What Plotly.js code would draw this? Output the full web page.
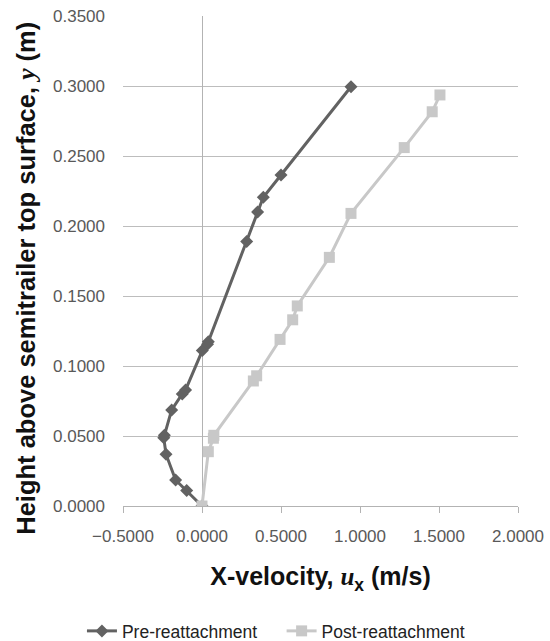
<!DOCTYPE html>
<html>
<head>
<meta charset="utf-8">
<script src="https://cdn.plot.ly/plotly-3.0.1.min.js"></script>
<style>html,body{margin:0;padding:0;background:#fff;}#chart{width:550px;height:641px;}</style>
</head>
<body>
<div id="chart"></div>
<script>
// Pre-reattachment series
const preX = [0.000, -0.097, -0.167, -0.228, -0.242, -0.238, -0.192, -0.125, -0.104, 0.002, 0.035, 0.040, 0.283, 0.352, 0.388, 0.500, 0.943];
const preY = [0.000, 0.011, 0.0186, 0.037, 0.0488, 0.0505, 0.0686, 0.080, 0.0829, 0.111, 0.1155, 0.1174, 0.189, 0.210, 0.2205, 0.2364, 0.2995];
// Post-reattachment series
const postX = [0.000, 0.040, 0.072, 0.075, 0.325, 0.346, 0.494, 0.574, 0.603, 0.806, 0.943, 1.280, 1.457, 1.506];
const postY = [0.000, 0.0388, 0.0484, 0.0505, 0.0893, 0.093, 0.119, 0.133, 0.1429, 0.1776, 0.209, 0.256, 0.2816, 0.2936];

const xTicks = [-0.5, 0.0, 0.5, 1.0, 1.5, 2.0];
const yTicks = [0.0, 0.05, 0.10, 0.15, 0.20, 0.25, 0.30, 0.35];

const fontFam = 'Liberation Sans, Arial, sans-serif';

const traces = [
  {x: preX, y: preY, name: 'Pre-reattachment\u00A0\u00A0\u00A0\u00A0', mode: 'lines+markers', type: 'scatter',
   line: {color: '#626262', width: 3}, marker: {symbol: 'diamond', size: 10, color: '#626262'}},
  {x: postX, y: postY, name: 'Post-reattachment', mode: 'lines+markers', type: 'scatter',
   line: {color: '#c8c8c8', width: 3}, marker: {symbol: 'square', size: 11, color: '#c8c8c8'}}
];

const layout = {
  width: 550, height: 641,
  margin: {l: 123, r: 32, t: 16, b: 135},
  paper_bgcolor: '#fff', plot_bgcolor: '#fff',
  font: {family: fontFam, size: 17, color: '#595959'},
  showlegend: true,
  legend: {orientation: 'h', xref: 'container', yref: 'container', x: 0.149, xanchor: 'left',
           y: 0.0156, yanchor: 'middle',
           font: {family: fontFam, size: 17.5, color: '#222'}},
  xaxis: {
    range: [-0.5, 2.0], tickvals: xTicks, tickformat: '.4f', automargin: false,
    showgrid: false, zeroline: true, zerolinecolor: '#b3b3b3', zerolinewidth: 1,
    showline: true, linecolor: '#b3b3b3', linewidth: 1,
    ticks: 'outside', tickcolor: '#b3b3b3', ticklen: 6, ticklabelstandoff: 9,
    tickfont: {family: fontFam, size: 17, color: '#595959'},
    title: {text: '<b>X-velocity, <i style="font-family:Liberation Serif">u</i><sub>x</sub> (m/s)</b>',
            font: {family: fontFam, size: 25, color: '#111'}, standoff: 22}
  },
  yaxis: {
    range: [0, 0.35], tickvals: yTicks, tickformat: '.4f', automargin: false,
    showgrid: true, gridcolor: '#bdbdbd', gridwidth: 1,
    zeroline: false, showline: false, ticks: '', ticklabelstandoff: 17,
    tickfont: {family: fontFam, size: 17, color: '#595959'}
  },
  annotations: [{
    text: '<b>Height above semitrailer top surface, <i style="font-family:Liberation Serif">y</i> (m)</b>',
    xref: 'paper', yref: 'paper', x: (27 - 123) / 395, y: (506 - 279) / 489.5,
    xanchor: 'center', yanchor: 'middle', textangle: -90, showarrow: false,
    font: {family: fontFam, size: 25.5, color: '#111'}
  }]
};

Plotly.newPlot('chart', traces, layout, {displayModeBar: false, staticPlot: true});
</script>
</body>
</html>
